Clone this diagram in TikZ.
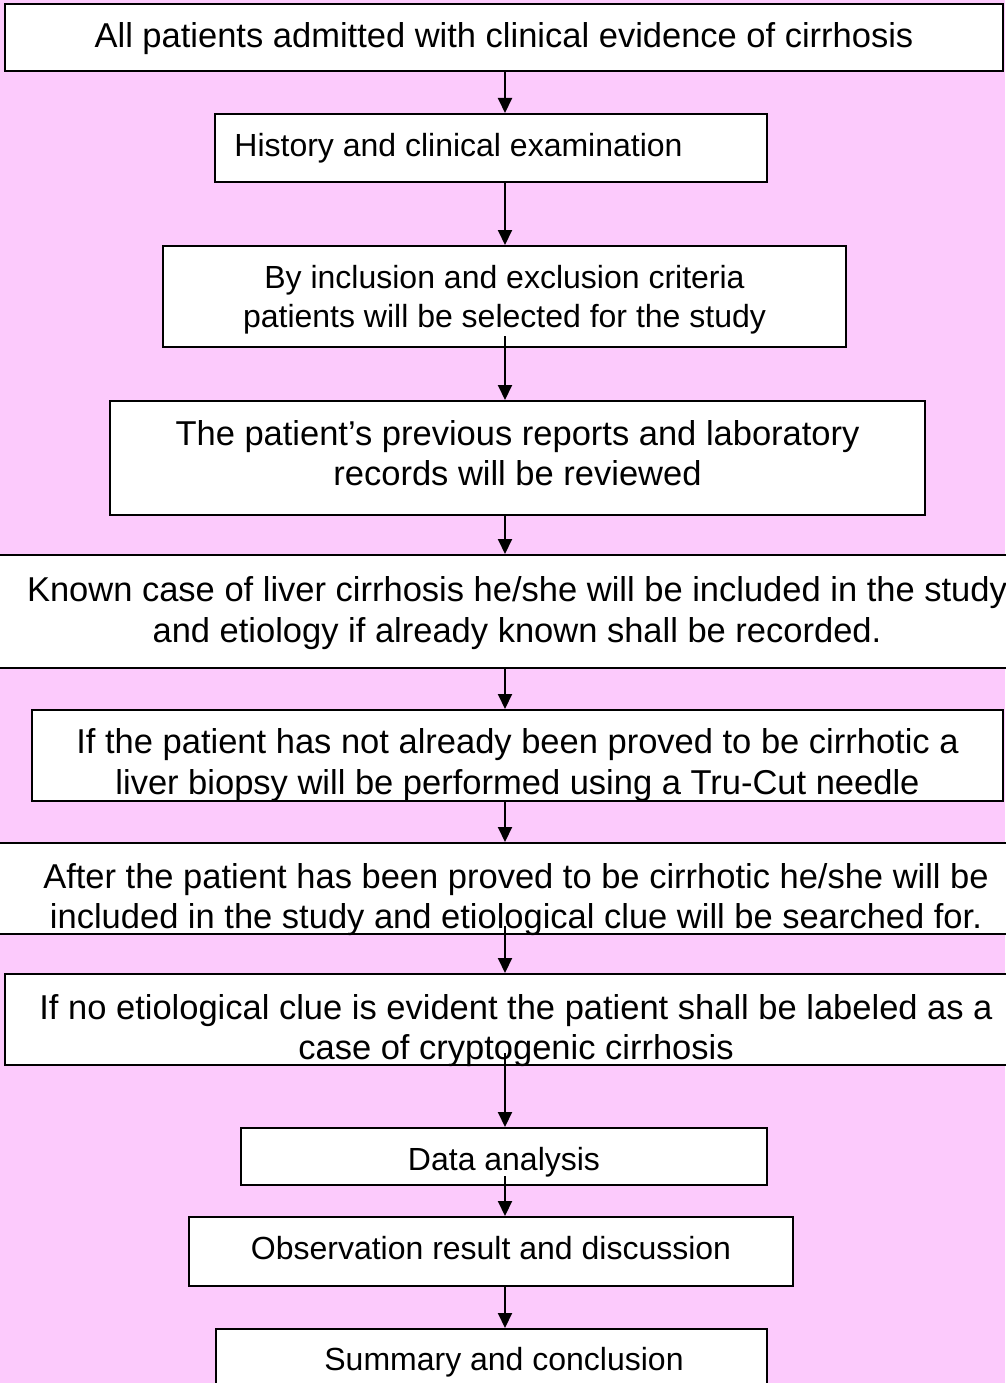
\documentclass[tikz,border=0pt]{standalone}
\usepackage{fontspec}
\setmainfont{Liberation Sans}
\usetikzlibrary{arrows.meta,positioning}
\definecolor{bgpink}{RGB}{252,202,252}

\begin{document}
\begin{tikzpicture}[x=1pt,y=-1pt,>={Triangle[length=15pt,width=14pt]},
  flow box/.style={rectangle,draw,fill=white,line width=2pt,inner sep=0pt},
  big text/.style={align=center,inner sep=0pt,font=\fontsize{34.5}{40.5}\selectfont},
  small text/.style={align=center,inner sep=0pt,font=\fontsize{32}{39.5}\selectfont},
  flow arrow/.style={->,line width=2pt}]

  \fill[bgpink] (0,0) rectangle (1005,1383);
  \useasboundingbox (0,0) rectangle (1005,1383);

  % boxes
  \node[flow box,minimum width=998,minimum height=67] (1) at (504,37.5) {};
  \node[flow box,minimum width=552,minimum height=68] (2) at (491,148) {};
  \node[flow box,minimum width=683,minimum height=101] (3) at (504.5,296.5) {};
  \node[flow box,minimum width=815,minimum height=114] (4) at (517.5,458) {};
  \node[flow box,minimum width=1060,minimum height=113] (5) at (517,611.5) {};
  \node[flow box,minimum width=971,minimum height=91] (6) at (517.5,755.5) {};
  \node[flow box,minimum width=1060,minimum height=91] (7) at (516,888.5) {};
  \node[flow box,minimum width=1022,minimum height=91] (8) at (516,1019.5) {};
  \node[flow box,minimum width=526,minimum height=57] (9) at (504,1156.5) {};
  \node[flow box,minimum width=604,minimum height=69] (10) at (491,1251.5) {};
  \node[flow box,minimum width=551,minimum height=60] (11) at (491.5,1359) {};

  % texts
  \node[big text,yshift=-1pt] (1t) at (1) {All patients admitted with clinical evidence of cirrhosis};
  \node[small text,xshift=-32.5pt] (2t) at (2) {History and clinical examination};
  \node[small text,yshift=-3pt] (3t) at (3)
    {By inclusion and exclusion criteria\\patients will be selected for the study};
  \node[big text,yshift=5pt] (4t) at (4)
    {The patient’s previous reports and laboratory\\records will be reviewed};
  \node[big text,yshift=-1.5pt] (5t) at (5)
    {Known case of liver cirrhosis he/she will be included in the study\\and etiology if already known shall be recorded.};
  \node[big text,yshift=-9.5pt] (6t) at (6)
    {If the patient has not already been proved to be cirrhotic a\\liver biopsy will be performed using a Tru-Cut needle};
  \node[big text,yshift=-11pt] (7t) at (7)
    {After the patient has been proved to be cirrhotic he/she will be\\included in the study and etiological clue will be searched for.};
  \node[big text,yshift=-11pt] (8t) at (8)
    {If no etiological clue is evident the patient shall be labeled as a\\case of cryptogenic cirrhosis};
  \node[small text,yshift=-6pt] (9t) at (9) {Data analysis};
  \node[small text,yshift=3pt] (10t) at (10) {Observation result and discussion};
  \node[small text,xshift=12.5pt,yshift=-3pt] (11t) at (11) {Summary and conclusion};

  % arrows down the middle
  \coordinate (axis) at (505,0);
  \draw[flow arrow] (1.south -| axis) -- (2.north -| axis);
  \draw[flow arrow] (2.south -| axis) -- (3.north -| axis);
  \draw[flow arrow] ([yshift=12pt]3.south -| axis) -- (4.north -| axis);
  \draw[flow arrow] (4.south -| axis) -- (5.north -| axis);
  \draw[flow arrow] (5.south -| axis) -- (6.north -| axis);
  \draw[flow arrow] (6.south -| axis) -- (7.north -| axis);
  \draw[flow arrow] ([yshift=9pt]7.south -| axis) -- (8.north -| axis);
  \draw[flow arrow] ([yshift=13pt]8.south -| axis) -- (9.north -| axis);
  \draw[flow arrow] ([yshift=10pt]9.south -| axis) -- (10.north -| axis);
  \draw[flow arrow] (10.south -| axis) -- (11.north -| axis);

\end{tikzpicture}
\end{document}
